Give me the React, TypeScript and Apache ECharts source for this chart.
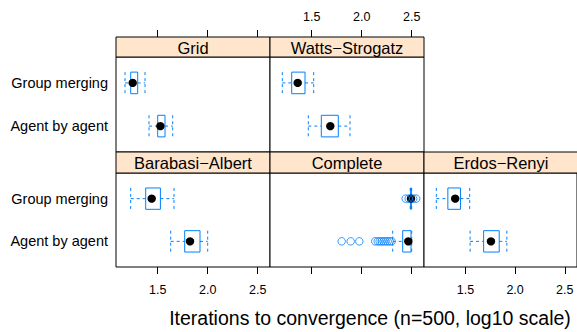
import React, { useEffect, useRef } from "react";
import * as echarts from "echarts";

// ---- data (log10 iterations) ----
const categories = ["Agent by agent", "Group merging"]; // y = 1, 2
const panelNames = ["Barabasi−Albert", "Complete", "Erdos−Renyi", "Grid", "Watts−Strogatz"];
const tickValues = [1.5, 2.0, 2.5];

// [lower whisker, Q1, median, Q3, upper whisker]
const baAgent = [1.63, 1.77, 1.823, 1.923, 2.0];
const baGroup = [1.23, 1.38, 1.44, 1.527, 1.663];
const completeAgent = [2.31, 2.41, 2.466, 2.493, 2.5];
const completeGroup = [2.485, 2.489, 2.493, 2.497, 2.5];
const erAgent = [1.547, 1.683, 1.757, 1.84, 1.917];
const erGroup = [1.207, 1.323, 1.397, 1.45, 1.543];
const gridAgent = [1.413, 1.5, 1.527, 1.573, 1.65];
const gridGroup = [1.173, 1.23, 1.25, 1.3, 1.373];
const wsAgent = [1.466, 1.596, 1.686, 1.766, 1.883];
const wsGroup = [1.206, 1.3, 1.36, 1.433, 1.52];

const completeAgentOutliers = [1.8, 1.89, 1.976, 2.135, 2.16, 2.18, 2.2, 2.22, 2.24, 2.26, 2.28, 2.3];
const completeGroupOutliers = [2.44, 2.47, 2.515, 2.545];

const panelStats = [
  [baAgent, baGroup],
  [completeAgent, completeGroup],
  [erAgent, erGroup],
  [gridAgent, gridGroup],
  [wsAgent, wsGroup],
];

const XMIN = 1.083;
const XMAX = 2.623;
const BLUE = "#0080ff";
const FONT = "'Liberation Sans', Arial, Helvetica, sans-serif";

export default function App() {
  const ref = useRef<HTMLDivElement>(null);
  useEffect(() => {
    if (!ref.current) return;
    const chart = echarts.init(ref.current, null, { renderer: "svg" });

    const colLeft = [116, 270, 424];
    const colW = 154;
    // panel index -> [col, row]; row 0 = top, 1 = bottom
    const pos = [
      [0, 1],
      [1, 1],
      [2, 1],
      [0, 0],
      [1, 0],
    ];
    const rowBodyTop = [57, 173];
    const rowBodyH = [95, 94];
    const rowStripTop = [37, 152];
    const rowStripH = [20, 21];

    const grids: any[] = [];
    const xAxes: any[] = [];
    const yAxes: any[] = [];
    const series: any[] = [];
    const graphics: any[] = [];

    pos.forEach(([c, r], i) => {
      grids.push({
        left: colLeft[c],
        top: rowBodyTop[r],
        width: colW,
        height: rowBodyH[r],
        show: true,
        borderColor: "#000",
        borderWidth: 1,
        backgroundColor: "#fff",
      });
      const isTop = r === 0;
      const showLabel = isTop ? c === 1 : c !== 1;
      xAxes.push({
        type: "value",
        gridIndex: i,
        min: XMIN,
        max: XMAX,
        position: isTop ? "top" : "bottom",
        offset: isTop ? rowStripH[0] : 0,
        axisLine: { show: false },
        splitLine: { show: false },
        axisTick: {
          show: true,
          length: 7,
          customValues: tickValues,
          lineStyle: { color: "#000", width: 1 },
        },
        axisLabel: {
          show: showLabel,
          customValues: tickValues,
          formatter: (v: number) => v.toFixed(1),
          fontSize: 12.5,
          fontFamily: FONT,
          color: "#000",
          margin: isTop ? 14 : 16,
        },
      });
      yAxes.push({
        type: "value",
        gridIndex: i,
        min: 0.4,
        max: 2.6,
        axisLine: { show: false },
        axisTick: { show: false },
        splitLine: { show: false },
        axisLabel: {
          show: c === 0,
          customValues: [1, 2],
          formatter: (v: number) => categories[Math.round(v) - 1],
          fontSize: 14.5,
          fontFamily: FONT,
          color: "#000",
          margin: 8,
        },
      });
      const [agent, group] = panelStats[i];
      series.push({
        type: "custom",
        xAxisIndex: i,
        yAxisIndex: i,
        encode: { x: [0, 1, 2, 3, 4], y: 5 },
        data: [
          [...agent, 1],
          [...group, 2],
        ],
        renderItem: (_params: any, api: any) => {
          const y = api.value(5);
          const lo = api.coord([api.value(0), y]);
          const q1 = api.coord([api.value(1), y]);
          const md = api.coord([api.value(2), y]);
          const q3 = api.coord([api.value(3), y]);
          const hi = api.coord([api.value(4), y]);
          const h = api.size([0, 1])[1] * 0.5;
          const cy = lo[1];
          const dash = { stroke: BLUE, lineWidth: 1, lineDash: [3, 3], fill: null };
          return {
            type: "group",
            children: [
              { type: "line", shape: { x1: lo[0], y1: cy, x2: q1[0], y2: cy }, style: dash },
              { type: "line", shape: { x1: q3[0], y1: cy, x2: hi[0], y2: cy }, style: dash },
              { type: "line", shape: { x1: lo[0], y1: cy - h / 2, x2: lo[0], y2: cy + h / 2 }, style: dash },
              { type: "line", shape: { x1: hi[0], y1: cy - h / 2, x2: hi[0], y2: cy + h / 2 }, style: dash },
              {
                type: "rect",
                shape: { x: q1[0], y: cy - h / 2, width: Math.max(q3[0] - q1[0], 0.5), height: h },
                style: { fill: "none", stroke: BLUE, lineWidth: 1 },
              },
              { type: "circle", shape: { cx: md[0], cy, r: 4.2 }, style: { fill: "#000" } },
            ],
          };
        },
      });
      // strip
      graphics.push({
        type: "rect",
        shape: { x: colLeft[c], y: rowStripTop[r], width: colW, height: rowStripH[r] },
        style: { fill: "#ffe5cc", stroke: "#000", lineWidth: 1 },
        z: 10,
      });
      graphics.push({
        type: "text",
        x: colLeft[c] + colW / 2,
        y: rowStripTop[r] + rowStripH[r] / 2 + 0.5,
        style: {
          text: panelNames[i],
          fontSize: 16.5,
          fontFamily: FONT,
          fill: "#000",
          align: "center",
          verticalAlign: "middle",
        },
        z: 11,
      });
    });

    // outliers (Complete panel = index 1)
    series.push({
      type: "scatter",
      xAxisIndex: 1,
      yAxisIndex: 1,
      symbol: "circle",
      symbolSize: 7.5,
      itemStyle: { color: "rgba(0,0,0,0)", borderColor: BLUE, borderWidth: 1 },
      data: [
        ...completeAgentOutliers.map((v) => [v, 1]),
        ...completeGroupOutliers.map((v) => [v, 2]),
      ],
      z: 3,
    });

    graphics.push({
      type: "text",
      x: 370,
      y: 318,
      style: {
        text: "Iterations to convergence (n=500, log10 scale)",
        fontSize: 19.5,
        fontFamily: FONT,
        fill: "#000",
        align: "center",
        verticalAlign: "middle",
      },
    });

    chart.setOption({
      animation: false,
      backgroundColor: "#fff",
      grid: grids,
      xAxis: xAxes,
      yAxis: yAxes,
      series,
      graphic: graphics,
    });
    return () => chart.dispose();
  }, []);
  return (
    <div
      ref={ref}
      style={{ position: "fixed", left: 0, top: 0, width: 577, height: 332 }}
    />
  );
}
